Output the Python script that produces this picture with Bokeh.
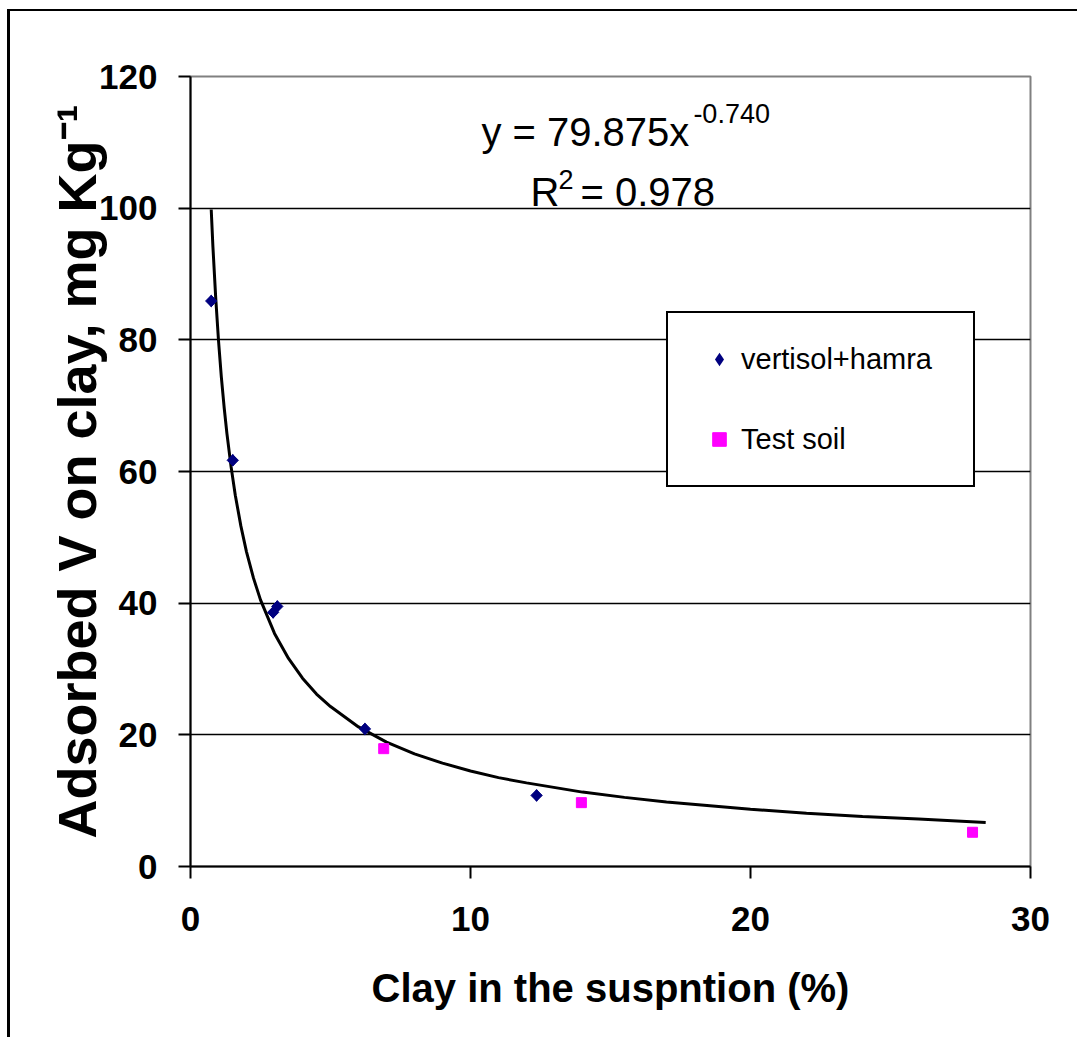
import numpy as np
from bokeh.plotting import figure
from bokeh.models import Range1d, FixedTicker, Label, Legend, LegendItem
from bokeh.embed import file_html
from bokeh.resources import INLINE

# ---- data ----
vh_clay = [0.74, 1.51, 2.95, 3.10, 6.23, 12.36]
vh_ads = [85.9, 61.7, 38.6, 39.5, 20.9, 10.8]
ts_clay = [6.90, 13.96, 27.93]
ts_ads = [17.9, 9.7, 5.2]
trend_clay = [0.74, 0.8, 0.9, 1.0, 1.1, 1.2, 1.3, 1.45, 1.6, 1.8, 2.0, 2.25, 2.5,
              3.0, 3.5, 4.0, 4.5, 5.0, 6.0, 7.0, 8.0, 9.0, 10.0, 11.0, 12.0, 14.0,
              15.5, 17.0, 20.0, 22.0, 24.0, 26.0, 28.4]
trend_ads = [99.8, 94.2, 86.4, 79.9, 74.4, 69.8, 65.8, 60.7, 56.4, 51.7, 47.8, 43.8, 40.5,
             35.4, 31.6, 28.6, 26.2, 24.3, 21.2, 18.9, 17.1, 15.7, 14.5, 13.5, 12.7, 11.3,
             10.5, 9.8, 8.7, 8.1, 7.6, 7.2, 6.7]
x_ticks = [0, 10, 20, 30]
y_ticks = [0, 20, 40, 60, 80, 100, 120]
y_grid = [20, 40, 60, 80, 100]
series_names = ["vertisol+hamra", "Test soil"]
x_title = "Clay in the suspntion (%)"
y_title = "Adsorbed V on clay, mg Kg\u207b\u00b9"

FONT = "Liberation Sans"

p = figure(width=1070, height=1028, x_range=Range1d(0, 30), y_range=Range1d(0, 120),
           output_backend="svg", toolbar_location=None,
           min_border_left=180, min_border_top=65, min_border_right=50, min_border_bottom=173)
p.styles = {"margin-left": "7px", "margin-top": "9px",
            "border-left": "3px solid black", "border-top": "2px solid black"}

p.background_fill_color = "white"
p.border_fill_color = "white"
p.outline_line_color = "#808080"
p.outline_line_width = 2

p.xaxis.ticker = FixedTicker(ticks=x_ticks)
p.yaxis.ticker = FixedTicker(ticks=y_ticks)
p.axis.axis_line_color = "black"
p.axis.axis_line_width = 2
p.axis.major_tick_line_color = "black"
p.axis.major_tick_line_width = 2
p.axis.major_tick_out = 12
p.axis.major_tick_in = 0
p.axis.minor_tick_line_color = None
p.axis.major_label_text_font = FONT
p.axis.major_label_text_font_style = "bold"
p.axis.major_label_text_font_size = "35px"
p.axis.major_label_text_color = "black"
p.xaxis.major_label_standoff = 28
p.yaxis.major_label_standoff = 21

p.axis.axis_label_text_color = "black"
p.xaxis.axis_label = x_title
p.xaxis.axis_label_text_font = FONT
p.xaxis.axis_label_text_font_style = "bold"
p.xaxis.axis_label_text_font_size = "40px"
p.xaxis.axis_label_standoff = 32
p.yaxis.axis_label = y_title
p.yaxis.axis_label_text_font = FONT
p.yaxis.axis_label_text_font_style = "bold"
p.yaxis.axis_label_text_font_size = "54px"
p.yaxis.axis_label_standoff = -11

p.xgrid.grid_line_color = None
p.ygrid.ticker = FixedTicker(ticks=y_grid)
p.ygrid.grid_line_color = "black"
p.ygrid.grid_line_width = 1.5

p.line(trend_clay, trend_ads, line_color="black", line_width=3)
# legend swatch for the diamond series, drawn underneath the rotated squares
r1_key = p.scatter(vh_clay, vh_ads, marker="diamond", size=13,
                   fill_color="#000080", line_color=None)
r1 = p.scatter(vh_clay, vh_ads, marker="square", angle=np.pi / 4, size=8,
               fill_color="#000080", line_color="#000080")
r2 = p.scatter(ts_clay, ts_ads, marker="square", size=10,
               fill_color="#FF00FF", line_color="#FF00FF")

legend = Legend(items=[LegendItem(label=series_names[0], renderers=[r1_key]),
                       LegendItem(label=series_names[1], renderers=[r2])],
                location=(476, 379), orientation="vertical",
                border_line_color="black", border_line_width=2, border_line_alpha=1,
                background_fill_color="white", background_fill_alpha=1,
                padding=29, spacing=46, margin=0,
                label_height=34, glyph_height=34, glyph_width=44,
                label_standoff=0, label_width=203,
                label_text_font=FONT, label_text_font_size="29px", label_text_color="black")
p.add_layout(legend)

def lab(x, y, t, size):
    p.add_layout(Label(x=x, y=y, text=t, text_font=FONT, text_font_size=size,
                       text_color="black", text_align="left", text_baseline="alphabetic"))

lab(10.39, 111.6, "y = 79.875x", "40px")
lab(17.96, 114.4, "-0.740", "27px")
lab(12.14, 102.5, "R", "40px")
lab(13.14, 104.3, "2", "27px")
lab(13.93, 102.5, "= 0.978", "40px")

open("out.html", "w").write(file_html(p, INLINE))
